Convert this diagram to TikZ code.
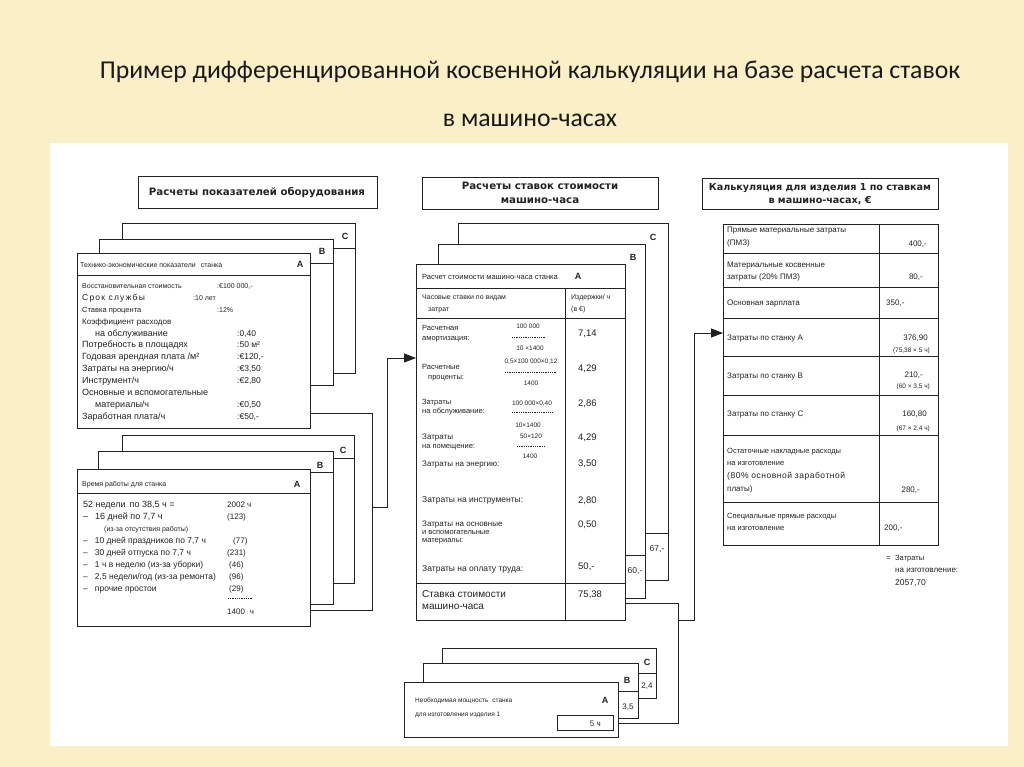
\documentclass[tikz,border=0pt]{standalone}
\usepackage{fontspec}
\setmainfont{Liberation Sans}
\newfontfamily\ttlfont{Carlito}
\newfontfamily\hdfont{DejaVu Sans}
\usetikzlibrary{arrows.meta}
\definecolor{bgc}{HTML}{FBEFC8}
\definecolor{ink}{HTML}{222222}
\newcounter{tn}
\newcommand\cardat[6][card]{\node[#1, minimum width={#5-#3}, minimum height={#6-#4}] (#2) at (#3,#4) {};}
\newcommand\tx[3][]{\stepcounter{tn}\node[s,#1] (t\arabic{tn}) at (#2) {#3};}
\begin{document}
\begin{tikzpicture}[x=1pt,y=-1pt,
  card/.style={draw=ink, fill=white, line width=0.9pt, inner sep=0, outer sep=0, anchor=north west},
  ln/.style={draw=ink, line width=0.9pt},
  conn/.style={draw=ink, line width=0.9pt},
  fr/.style={draw=ink, line width=0.4pt, dash pattern=on 1pt off 0.8pt},
  f6/.style={font=\fontsize{6.5}{7.5}\selectfont},
  f7/.style={font=\fontsize{7}{8}\selectfont},
  f75/.style={font=\fontsize{7.5}{8.5}\selectfont},
  f8/.style={font=\fontsize{8}{9}\selectfont},
  f85/.style={font=\fontsize{8.5}{10}\selectfont},
  f9/.style={font=\fontsize{9}{10}\selectfont},
  f95/.style={font=\fontsize{9.5}{11}\selectfont},
  f10/.style={font=\fontsize{10}{12}\selectfont},
  s/.style={inner sep=0, anchor=base west, text=ink, f7},
  r/.style={anchor=base east},
  c/.style={anchor=base},
  lab/.style={inner sep=0, anchor=center, text=ink, font=\bfseries\fontsize{9}{10}\selectfont},
  hd/.style={inner sep=0, anchor=base, text=ink, font=\hdfont\bfseries\fontsize{10.2}{12}\selectfont},
  hdr/.style={hd, font=\hdfont\bfseries\fontsize{9.6}{12}\selectfont},
]
\useasboundingbox (0,0) rectangle (1024,767);
\fill[bgc] (0,0) rectangle (1024,767);
\fill[white] (50,143) rectangle (1008,746);

% title
\node[inner sep=0, text=black!90, font=\ttlfont\fontsize{25.7}{30}\selectfont] (title1) at (530,72) {Пример дифференцированной косвенной калькуляции на базе расчета ставок};
\node[inner sep=0, text=black!90, font=\ttlfont\fontsize{25.7}{30}\selectfont] (title2) at (530,120) {в машино-часах};

% ===== left column =====
\cardat{hL}{138}{176}{377}{208}
\tx[hd]{257,196}{Расчеты показателей оборудования}

\cardat{lC1}{122}{223}{355}{373}
\draw[ln] (122,248) -- (355,248);
\node[lab] (lC1l) at (345,236) {C};
\cardat{lB1}{99}{239}{333}{385}
\draw[ln] (99,263) -- (333,263);
\node[lab] (lB1l) at (322,251) {B};
\cardat{lA1}{77}{253}{310}{428}
\draw[ln] (77,275) -- (310,275);
\node[lab] (lA1l) at (300,264) {A};
\tx{80,267}{Технико-экономические показатели\hspace{5pt}станка}
\tx{82,288}{Восстановительная стоимость}
\tx{217,288}{:€100 000,-}
\tx[f85]{82,300}{\addfontfeature{LetterSpace=14}Срок службы}
\tx{193,300}{:10 лет}
\tx[f75]{82,312}{Ставка процента}
\tx{217,312}{:12\%}
\tx[f8]{82,324}{Коэффициент расходов}
\tx[f9]{95,336}{на обслуживание}
\tx[f85]{237,336}{:0,40}
\tx[f9]{82,347}{Потребность в площадях}
\tx[f85]{237,347}{:50 м²}
\tx[f9]{82,359}{Годовая арендная плата /м²}
\tx[f85]{237,359}{:€120,-}
\tx[f9]{82,371}{Затраты на энергию/ч}
\tx[f85]{237,371}{:€3,50}
\tx[f9]{82,383}{Инструмент/ч}
\tx[f85]{237,383}{:€2,80}
\tx[f9]{82,395}{Основные и вспомогательные}
\tx[f9]{95,407}{материалы/ч}
\tx[f85]{237,407}{:€0,50}
\tx[f9]{82,419}{Заработная плата/ч}
\tx[f85]{237,419}{:€50,-}

\cardat{lC2}{122}{435}{354}{583}
\draw[ln] (122,458) -- (354,458);
\node[lab] (lC2l) at (343,450) {C};
\cardat{lB2}{98}{451}{333}{604}
\draw[ln] (98,472) -- (333,472);
\node[lab] (lB2l) at (320,465) {B};
\cardat{lA2}{77}{469}{310}{626}
\draw[ln] (77,493) -- (310,493);
\node[lab] (lA2l) at (297,484) {A};
\tx{82,486}{Время работы для станка}
\tx[f9]{83,507}{52 недели\hspace{4pt}по 38,5 ч =}
\tx[f8]{227,507}{2002 ч}
\tx[f9]{83,519}{–\hspace{7pt}16 дней по 7,7 ч}
\tx[f8]{227,519}{(123)}
\tx{104,531}{(из-за отсутствия работы)}
\tx[f85]{83,543}{–\hspace{7pt}10 дней праздников по 7,7 ч}
\tx[f8]{233,543}{(77)}
\tx[f85]{83,555}{–\hspace{7pt}30 дней отпуска по 7,7 ч}
\tx[f8]{227,555}{(231)}
\tx[f85]{83,567}{–\hspace{7pt}1 ч в неделю (из-за уборки)}
\tx[f8]{229,567}{(46)}
\tx[f85]{83,579}{–\hspace{7pt}2,5 недели/год (из-за ремонта)}
\tx[f8]{229,579}{(96)}
\tx[f85]{83,591}{–\hspace{7pt}прочие простои}
\tx[f8]{229,591}{(29)}
\draw[fr] (228,598) -- (252,598);
\tx[f8]{227,614}{1400\hspace{5pt}ч}

% ===== middle column =====
\cardat{hM}{422}{177}{658}{209}
\tx[hd]{540,190}{Расчеты ставок стоимости}
\tx[hd]{540,204}{машино-часа}

\cardat{mC}{458}{223}{668}{580}
\node[lab] (mCl) at (653,237) {C};
\cardat{mB}{438}{244}{645}{598}
\node[lab] (mBl) at (633,257) {B};
\draw[ln] (mB.east |- {(0,533)}) -- (mC.east |- {(0,533)});
\tx[f85,c]{657,551}{67,-}
\cardat{mA}{416}{264}{625}{620}
\draw[ln] (mA.east |- {(0,555)}) -- (mB.east |- {(0,555)});
\tx[f85,c]{635,573}{60,-}
\draw[ln] (416,288) -- (625,288);
\draw[ln] (416,318) -- (625,318);
\draw[ln] (416,583) -- (625,583);
\draw[ln] (565,288) -- (565,620);
\tx[f75]{422,279}{Расчет стоимости машино-часа станка}
\node[lab] (mAl) at (578,276) {A};
\tx{422,299}{Часовые ставки по видам}
\tx{428,311}{затрат}
\tx{571,299}{Издержки/ ч}
\tx{571,311}{(в €)}

\tx[f75]{422,330}{Расчетная}
\tx[f75]{422,340}{амортизация:}
\tx[f75]{422,369}{Расчетные}
\tx[f75]{428,379}{проценты:}
\tx[f75]{422,404}{Затраты}
\tx[f75]{422,413}{на обслуживание:}
\tx[f8]{422,439}{Затраты}
\tx[f75]{422,448}{на помещение:}
\tx[f8]{422,466}{Затраты на энергию:}
\tx[f85]{422,502}{Затраты на инструменты:}
\tx[f8]{422,526}{Затраты на основные}
\tx[f75]{422,534}{и вспомогательные}
\tx[f75]{422,542}{материалы:}
\tx[f85]{422,571}{Затраты на оплату труда:}
\tx[f10]{422,597}{Ставка стоимости}
\tx[f10]{422,609}{машино-часа}

\tx[f6,c]{528,328}{100 000}
\draw[fr] (512,337) -- (546,337);
\tx[f6,c]{530,350}{10 ×1400}
\tx[f6,c]{531,363}{0,5×100 000×0,12}
\draw[fr] (505,372) -- (557,372);
\tx[f6,c]{531,385}{1400}
\tx[f6,c]{532,405}{100 000×0,40}
\draw[fr] (512,412) -- (552,412);
\tx[f6,c]{528,427}{10×1400}
\tx[f6,c]{531,438}{50×120}
\draw[fr] (517,446) -- (545,446);
\tx[f6,c]{530,458}{1400}

\tx[f95]{578,336}{7,14}
\tx[f95]{578,371}{4,29}
\tx[f95]{578,406}{2,86}
\tx[f95]{578,440}{4,29}
\tx[f95]{578,466}{3,50}
\tx[f95]{578,503}{2,80}
\tx[f95]{578,527}{0,50}
\tx[f95]{578,569}{50,-}
\tx[f95]{578,597}{75,38}

% bottom cards
\cardat{bC}{442}{648}{656}{698}
\node[lab] (bCl) at (647,662) {C};
\cardat{bB}{423}{663}{638}{718}
\node[lab] (bBl) at (627,680) {B};
\draw[ln] (bB.east |- {(0,673)}) -- (bC.east |- {(0,673)});
\tx[f8,c]{647,688}{2,4}
\cardat{bA}{404}{682}{618}{737}
\node[lab] (bAl) at (605,700) {A};
\draw[ln] (bA.east |- {(0,691)}) -- (bB.east |- {(0,691)});
\tx[f8,c]{628,709}{3,5}
\tx[f6]{415,702}{Необходимая мощность\hspace{4pt}станка}
\tx[f6]{415,716}{для изготовления изделия 1}
\cardat{bAv}{557}{715}{613}{730}
\tx[f8,r]{601,726}{5 ч}

% ===== right column =====
\cardat{hR}{702}{178}{938}{209}
\tx[hdr]{820,191}{Калькуляция для изделия 1 по ставкам}
\tx[hdr]{820,204}{в машино-часах, €}

\cardat{rT}{723}{224}{938}{545}
\foreach \yy in {253,287,318,356,395,435,502} \draw[ln] (rT.west |- {(0,\yy)}) -- (rT.east |- {(0,\yy)});
\draw[ln] (879,224) -- (879,545);

\tx[f8]{727,233}{Прямые материальные затраты}
\tx[f8]{727,245}{(ПМЗ)}
\tx[f8,r]{927,247}{400,-}
\tx[f8]{727,267}{Материальные косвенные}
\tx[f8]{727,279}{затраты (20\% ПМЗ)}
\tx[f8,r]{923,279}{80,-}
\tx[f8]{727,305}{Основная зарплата}
\tx[f8]{886,305}{350,-}
\tx[f8]{727,340}{Затраты по станку A}
\tx[f8,r]{928,340}{376,90}
\tx[f6,r]{930,352}{(75,38 × 5 ч)}
\tx[f8]{727,378}{Затраты по станку B}
\tx[f8,r]{923,377}{210,-}
\tx[f6,r]{930,388}{(60 × 3,5 ч)}
\tx[f8]{727,416}{Затраты по станку C}
\tx[f8,r]{927,416}{160,80}
\tx[f6,r]{930,430}{(67 × 2,4 ч)}
\tx[f75]{727,453}{Остаточные накладные расходы}
\tx[f75]{727,465}{на изготовление}
\tx[f85]{727,478}{\addfontfeature{LetterSpace=6}(80\% основной заработной}
\tx[f8]{727,491}{платы)}
\tx[f8,r]{920,492}{280,-}
\tx[f75]{727,518}{Специальные прямые расходы}
\tx[f75]{727,530}{на изготовление}
\tx[f8]{884,530}{200,-}
\tx[f8]{886,560}{=}
\tx[f75]{895,560}{Затраты}
\tx[f8]{895,572}{на изготовление:}
\tx[f85]{895,585}{2057,70}

% ===== connectors =====
\coordinate (jL1) at (372,413);
\coordinate (jL2) at (372,610);
\coordinate (jL3) at (372,507);
\coordinate (jL4) at (387,507);
\coordinate (jL5) at (387,358);
\draw[conn] (lA1.east |- jL1) -- (jL1) -- (jL2) -- (lA2.east |- jL2);
\draw[conn] (jL3) -- (jL4) -- (jL5);
\draw[conn, -{Triangle[length=12pt, width=9pt]}] (jL5) -- (mA.west |- jL5);

\coordinate (jM1) at (678,603);
\coordinate (jM2) at (678,723);
\coordinate (jM3) at (678,620);
\coordinate (jM4) at (694,620);
\coordinate (jM5) at (694,333);
\draw[conn] (mA.east |- jM1) -- (jM1) -- (jM2) -- (bA.east |- jM2);
\draw[conn] (jM3) -- (jM4) -- (jM5);
\draw[conn, -{Triangle[length=12pt, width=9pt]}] (jM5) -- (rT.west |- jM5);
\end{tikzpicture}
\end{document}
